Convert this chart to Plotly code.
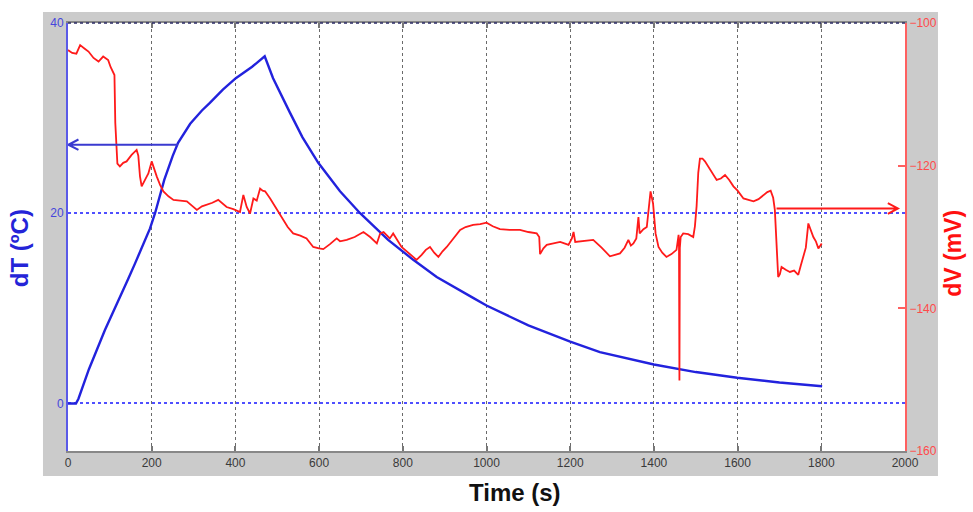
import plotly.graph_objects as go

# Temperature difference (left axis)
time_dT = [0, 19, 25, 50, 88, 124, 144, 160, 176, 192, 196, 208, 230, 250, 263, 292, 320, 339,
           370, 401, 440, 470, 490, 530, 560, 598, 650, 698, 745, 765, 825, 881,
           968, 1000, 1100, 1200, 1271, 1400, 1500, 1599, 1700, 1802]
dT = [0, 0, 0.5, 3.6, 7.7, 11.1, 13.1, 14.7, 16.4, 18.0, 18.4, 20.0, 23.5, 26.0, 27.4, 29.4,
      30.8, 31.6, 33.0, 34.2, 35.4, 36.5, 34.2, 30.6, 28.0, 25.3, 22.3, 20.0, 18.0, 17.2,
      15.1, 13.3, 11.1, 10.3, 8.2, 6.5, 5.4, 4.1, 3.3, 2.7, 2.2, 1.8]

# Voltage difference (right axis)
time_dV = [0, 10, 20, 29, 40, 49, 61, 73, 84, 96, 102, 108, 111, 113, 115, 118, 124, 132, 140,
           152, 164, 168, 172, 176, 184, 192, 200, 206, 212, 220, 228, 240, 252, 268, 284,
           296, 308, 320, 331, 345, 359, 370, 379, 395, 411, 419, 427, 435, 443, 451, 459,
           465, 471, 483, 497, 511, 525, 538, 555, 570, 586, 600, 610, 626, 642, 650, 666,
           685, 706, 722, 738, 746, 754, 769, 777, 797, 815, 833, 845, 855, 865, 875, 885,
           895, 905, 920, 937, 950, 968, 985, 1000, 1015, 1032, 1055, 1080, 1100, 1120,
           1126, 1128, 1136, 1144, 1160, 1176, 1186, 1196, 1204, 1208, 1212, 1230, 1245,
           1255, 1275, 1295, 1307, 1319, 1330, 1339, 1345, 1351, 1358, 1363, 1366, 1375,
           1383, 1388, 1392, 1398, 1404, 1411, 1420, 1430, 1442, 1454, 1459, 1460, 1461,
           1462, 1464, 1470, 1482, 1494, 1498, 1502, 1506, 1510, 1516, 1522, 1535, 1550,
           1560, 1570, 1580, 1590, 1600, 1614, 1626, 1638, 1650, 1662, 1671, 1679, 1685,
           1689, 1693, 1697, 1701, 1705, 1715, 1725, 1735, 1745, 1751, 1757, 1763, 1769,
           1775, 1781, 1787, 1793, 1801]
dV = [-103.8, -104.2, -104.3, -103.1, -103.6, -104.0, -104.9, -105.4, -104.7, -105.2, -106.2,
      -107.0, -107.3, -114.0, -117.5, -119.7, -120.1, -119.6, -119.4, -118.5, -117.8, -118.6,
      -121.5, -122.9, -122.0, -121.1, -119.4, -120.5, -121.5, -122.7, -123.6, -124.3, -124.8,
      -124.9, -125.0, -125.6, -126.2, -125.7, -125.5, -125.2, -124.8, -125.4, -125.8, -126.1,
      -126.5, -124.1, -125.8, -126.7, -124.6, -124.9, -123.2, -123.5, -123.6, -124.6, -126.0,
      -127.4, -128.6, -129.5, -129.8, -130.2, -131.4, -131.6, -131.7, -131.0, -130.2, -130.6,
      -130.4, -130.0, -129.3, -130.0, -130.9, -129.5, -129.3, -130.2, -129.5, -131.4, -132.3,
      -133.2, -132.5, -131.8, -131.4, -132.2, -132.8, -132.0, -131.4, -130.2, -129.0, -128.6,
      -128.3, -128.2, -128.0, -128.5, -128.9, -129.0, -129.0, -129.3, -129.5, -130.0, -132.4,
      -131.6, -131.1, -130.9, -130.7, -130.9, -131.1, -130.2, -129.3, -130.7, -130.6, -130.5,
      -130.4, -131.5, -132.7, -132.5, -132.3, -131.5, -130.4, -131.2, -130.9, -130.2, -127.2,
      -129.5, -128.9, -128.6, -126.0, -123.6, -125.3, -129.5, -131.4, -132.2, -132.8, -132.4,
      -131.8, -129.7, -131.5, -150.1, -131.5, -130.0, -129.5, -129.6, -130.0, -128.5, -125.7,
      -121.0, -119.0, -119.0, -119.4, -120.7, -122.0, -121.8, -121.3, -122.0, -122.9, -123.5,
      -124.6, -124.8, -125.0, -124.7, -124.1, -123.7, -123.5, -124.5, -126.2, -131.0, -135.6,
      -135.2, -134.2, -134.6, -134.9, -134.7, -135.3, -134.0, -132.8, -131.5, -128.1, -129.2,
      -130.0, -130.6, -131.6, -130.9]

x_ticks = list(range(0, 2001, 200))
dT_ticks = [0, 20, 40]
dV_ticks = [-100, -120, -140, -160]

# Arrows pointing each curve to its own axis
blue_arrow = {"start": 263, "tip": 1, "level": 27.2}
red_arrow = {"start": 1693, "tip": 1983, "level": -126.0}

BLUE = "#2222dd"
RED = "#ff1a1a"
FONT = "Liberation Sans, Arial, sans-serif"

fig = go.Figure()
fig.add_trace(go.Scatter(x=time_dT, y=dT, mode="lines", yaxis="y",
                         line=dict(color=BLUE, width=2.4), showlegend=False))
fig.add_trace(go.Scatter(x=time_dV, y=dV, mode="lines", yaxis="y2",
                         line=dict(color=RED, width=1.8), showlegend=False))


def arrow_path(start, tip, level, head_len, head_half):
    back = tip + head_len if start > tip else tip - head_len
    return (f"M{start},{level} L{tip},{level} "
            f"M{back},{level + head_half} L{tip},{level} L{back},{level - head_half}")


shapes = [
    # grey frame around the axes
    dict(type="rect", xref="paper", yref="paper", x0=-0.0299, x1=1.0394, y0=-0.0584, y1=1.0257,
         fillcolor="#cbcbcb", line=dict(width=0), layer="below"),
    dict(type="rect", xref="paper", yref="paper", x0=0, x1=1, y0=0, y1=1,
         fillcolor="white", line=dict(width=0), layer="below"),
    # dotted top border
    dict(type="line", xref="paper", yref="paper", x0=0, x1=1, y0=1, y1=1,
         line=dict(color="#2b2b66", width=1.5, dash="dot"), layer="above"),
    dict(type="path", xref="x", yref="y",
         path=arrow_path(blue_arrow["start"], blue_arrow["tip"], blue_arrow["level"], 24, 0.55),
         line=dict(color="#3a3ad0", width=2)),
    dict(type="path", xref="x", yref="y2",
         path=arrow_path(red_arrow["start"], red_arrow["tip"], red_arrow["level"], 24, 0.75),
         line=dict(color=RED, width=2)),
]

annotations = [
    dict(text="<b>dT (ºC)</b>", xref="paper", yref="paper", x=-0.058, y=0.475, textangle=-90,
         showarrow=False, xanchor="center", yanchor="middle",
         font=dict(family=FONT, size=24, color="#2424d8")),
    dict(text="<b>dV (mV)</b>", xref="paper", yref="paper", x=1.058, y=0.462, textangle=-90,
         showarrow=False, xanchor="center", yanchor="middle",
         font=dict(family=FONT, size=23, color="#ff1010")),
    dict(text="<b>Time (s)</b>", xref="paper", yref="paper", x=0.534, y=-0.098,
         showarrow=False, xanchor="center", yanchor="middle",
         font=dict(family=FONT, size=24, color="#111111")),
]

fig.update_layout(
    width=973, height=512,
    margin=dict(l=68, r=68, t=23, b=61),
    paper_bgcolor="white", plot_bgcolor="white",
    font=dict(family=FONT),
    shapes=shapes, annotations=annotations,
    xaxis=dict(range=[0, 2000], tickvals=x_ticks, ticks="inside", ticklen=5,
               tickcolor="#777777", tickwidth=1.5, mirror="ticks",
               showline=True, linecolor="#888888", linewidth=2,
               showgrid=True, gridcolor="#6a6a6a", griddash="dot", gridwidth=1.3,
               zeroline=False, tickfont=dict(size=12, color="#3a3a3a")),
    yaxis=dict(range=[-5, 40], tickvals=dT_ticks, ticks="",
               showline=True, linecolor="#5a5ae8", linewidth=2,
               showgrid=True, gridcolor="#4f4fff", griddash="dot", gridwidth=1.6,
               zeroline=False, tickfont=dict(size=12, color="#4646dc")),
    yaxis2=dict(range=[-160, -100], tickvals=dV_ticks, overlaying="y", side="right",
                ticks="inside", ticklen=7, tickcolor="#ff6060", tickwidth=1.5,
                showline=True, linecolor="#ff6060", linewidth=2,
                showgrid=False, zeroline=False, tickfont=dict(size=12, color="#ff4a4a")),
)

fig.write_html("out.html")
